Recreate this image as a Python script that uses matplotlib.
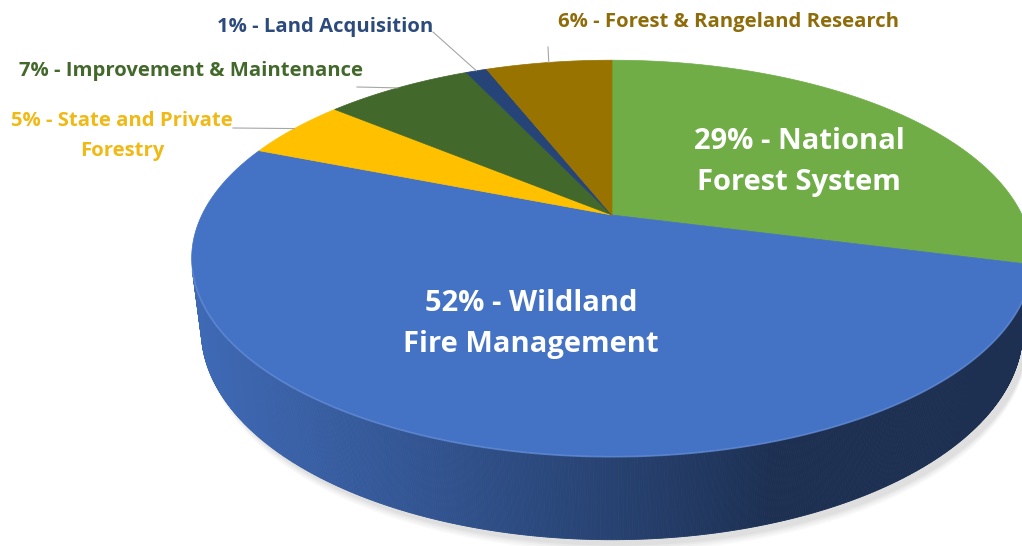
"""Forest Service budget split drawn as a tilted 3D pie."""

import matplotlib.pyplot as plt
import numpy as np
from matplotlib.collections import PolyCollection
from matplotlib.colors import to_rgb
from matplotlib.patches import Polygon

plt.rcParams["font.family"] = ["Open Sans", "DejaVu Sans"]

# slices run clockwise from 12 o'clock
SLICE_NAMES = [
    "National Forest System",
    "Wildland Fire Management",
    "State and Private Forestry",
    "Improvement & Maintenance",
    "Land Acquisition",
    "Forest & Rangeland Research",
]
SLICE_SHARES = [29, 52, 5, 7, 1, 6]
SLICE_COLORS = ["#70ad47", "#4472c4", "#ffc000", "#43682b", "#264478", "#997300"]
LABEL_TEXTS = [
    "29% - National\nForest System",
    "52% - Wildland\nFire Management",
    "5% - State and Private\nForestry",
    "7% - Improvement & Maintenance",
    "1% - Land Acquisition",
    "6% - Forest & Rangeland Research",
]

# camera set-up, tuned by eye (pixel canvas)
ELEV = np.radians(27.4)
CAM_DIST = 4.05
FOCAL = 1661.0
CENTER = (612.0, 215.0)
THICK = 0.198


def project(u, v, z=0.0):
    s, c = np.sin(ELEV), np.cos(ELEV)
    depth = CAM_DIST + v * c - z * s
    return CENTER[0] + FOCAL * u / depth, CENTER[1] - FOCAL * (v * s + z * c) / depth


def rim(phi, z=0.0):
    x, y = project(np.sin(phi), np.cos(phi), z)
    return np.column_stack([x, y])


def shade(color, phi):
    light = np.array([-0.95, -0.31])
    light = light / np.linalg.norm(light)
    lit = max(0.0, np.sin(phi) * light[0] + np.cos(phi) * light[1])
    return tuple(np.array(to_rgb(color)) * (0.42 + 0.5 * lit))


fig = plt.figure(figsize=(10.22, 5.46), dpi=100)
ax = fig.add_axes([0, 0, 1, 1])
ax.set_xlim(0, 1022)
ax.set_ylim(546, 0)
ax.axis("off")

shares = np.asarray(SLICE_SHARES, dtype=float)
edges = np.concatenate([[0.0], np.cumsum(shares)]) / shares.sum() * 2 * np.pi

# soft shadow under the disc
full = np.linspace(0, 2 * np.pi, 400)
base = rim(full, -THICK)
for k, alpha in enumerate([0.10, 0.12, 0.16, 0.22]):
    grow = 8 - 2 * k
    pts = base.copy()
    pts[:, 0] = pts[:, 0] + 5
    pts[:, 1] = pts[:, 1] + 4 + grow
    ax.add_patch(Polygon(pts, closed=True, facecolor="#bfbfbf",
                         edgecolor="none", alpha=alpha, zorder=0))

# side wall, only the part that faces the camera
phi = np.linspace(0, 2 * np.pi, 1441)
limit = -1.0 / (CAM_DIST * np.cos(ELEV))
quads, quad_colors = [], []
for a, b in zip(phi[:-1], phi[1:]):
    mid = 0.5 * (a + b)
    if np.cos(mid) >= limit:
        continue
    idx = min(np.searchsorted(edges, mid, side="right") - 1, len(SLICE_COLORS) - 1)
    top = rim(np.array([a, b]))
    bot = rim(np.array([b, a]), -THICK)
    quads.append(np.vstack([top, bot]))
    quad_colors.append(shade(SLICE_COLORS[idx], mid))
ax.add_collection(PolyCollection(quads, facecolors=quad_colors,
                                 edgecolors=quad_colors, linewidths=0.6, zorder=1))

# light bevel along the front rim
front = phi[np.cos(phi) < limit]
ax.plot(*rim(front).T, color="#6f95dc", lw=1.3, alpha=0.55, zorder=3)

# top face
for start, stop, color in zip(edges[:-1], edges[1:], SLICE_COLORS):
    arc = np.linspace(start, stop, max(int((stop - start) * 120), 4))
    pts = np.vstack([[CENTER], rim(arc)])
    ax.add_patch(Polygon(pts, closed=True, facecolor=color,
                         edgecolor=color, lw=0.5, zorder=2))

# labels inside the two big slices
ax.text(799, 162, LABEL_TEXTS[0], color="white", fontsize=21, fontweight="bold",
        ha="center", va="center", linespacing=1.56, zorder=5)
ax.text(531, 324, LABEL_TEXTS[1], color="white", fontsize=21, fontweight="bold",
        ha="center", va="center", linespacing=1.56, zorder=5)

# outside labels with leader lines to the slice rim
outside = [
    (2, (122, 136), (233, 128), "#f0b915"),
    (3, (191, 71), (357, 87), "#43682b"),
    (4, (325, 27), (433, 32), "#2c4a7c"),
    (5, (728, 22), (548, 47), "#8f6c0a"),
]
for idx, (tx, ty), (lx, ly), color in outside:
    ax.text(tx, ty, LABEL_TEXTS[idx], color=color, fontsize=14.6, fontweight="bold",
            ha="center", va="center", linespacing=1.62, zorder=5)
    mid = 0.5 * (edges[idx] + edges[idx + 1])
    ex, ey = project(np.sin(mid), np.cos(mid))
    ax.plot([lx, ex], [ly, ey], color="#a6a6a6", lw=0.8, zorder=4)

fig.savefig("out.png", dpi=100)
